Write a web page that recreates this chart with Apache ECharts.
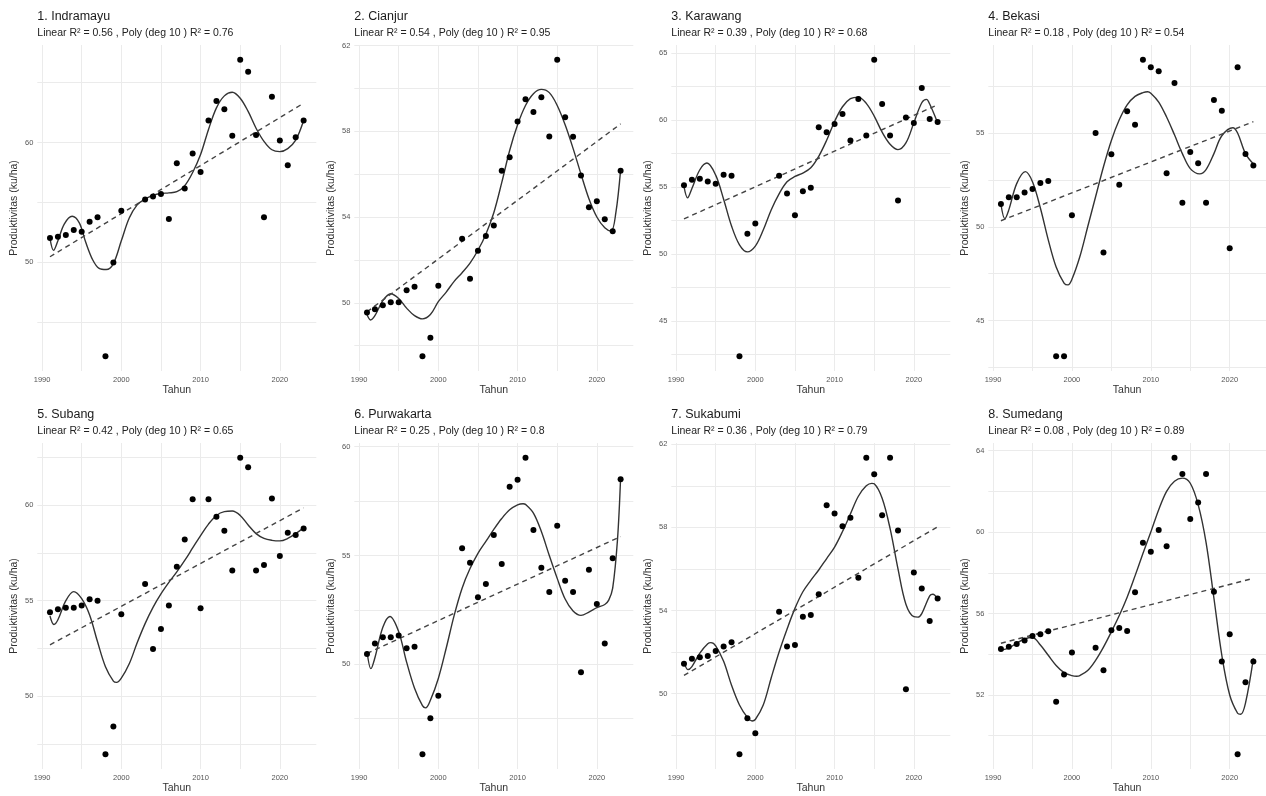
<!DOCTYPE html>
<html lang="id">
<head>
<meta charset="UTF-8">
<title>Produktivitas padi per kabupaten</title>
<script src="https://cdn.jsdelivr.net/npm/echarts@6.0.0/dist/echarts.min.js"></script>
<style>
  html, body { margin: 0; background: #fff; }
  #main { width: 1266px; height: 796px; }
</style>
</head>
<body>
<div id="main"></div>
<script>
// tahun pengamatan (2001 dan 2002 tidak ada)
const years = [1991, 1992, 1993, 1994, 1995, 1996, 1997, 1998, 1999, 2000,
  2003, 2004, 2005, 2006, 2007, 2008, 2009, 2010, 2011, 2012, 2013, 2014,
  2015, 2016, 2017, 2018, 2019, 2020, 2021, 2022, 2023];

// produktivitas (ku/ha), urut sesuai years
const indramayu = [52.03, 52.15, 52.28, 52.7, 52.56, 53.4, 53.76, 42.17, 50.0, 54.32,
  55.26, 55.49, 55.71, 53.62, 58.27, 56.16, 59.08, 57.55, 61.84, 63.48, 62.79, 60.58,
  66.91, 65.91, 60.64, 53.76, 63.82, 60.17, 58.11, 60.45, 61.84];
const cianjur = [49.55, 49.7, 49.89, 50.02, 50.02, 50.59, 50.75, 47.51, 48.37, 50.79,
  52.99, 51.12, 52.43, 53.11, 53.6, 56.16, 56.79, 58.45, 59.49, 58.9, 59.59, 57.75,
  61.33, 58.65, 57.74, 55.93, 54.45, 54.73, 53.89, 53.33, 56.16];
const karawang = [55.14, 55.56, 55.63, 55.43, 55.26, 55.93, 55.86, 42.39, 51.53, 52.28,
  55.86, 54.52, 52.9, 54.69, 54.96, 59.46, 59.09, 59.71, 60.45, 58.49, 61.57, 58.85,
  64.5, 61.2, 58.86, 54.0, 60.2, 59.78, 62.39, 60.08, 59.86];
const bekasi = [51.21, 51.57, 51.57, 51.83, 52.01, 52.33, 52.44, 43.1, 43.1, 50.62,
  55.0, 48.63, 53.86, 52.24, 56.16, 55.44, 58.9, 58.51, 58.29, 52.85, 57.67, 51.28,
  53.99, 53.38, 51.28, 56.76, 56.19, 48.86, 58.51, 53.88, 53.26];
const subang = [54.39, 54.55, 54.63, 54.63, 54.74, 55.07, 55.0, 46.98, 48.43, 54.29,
  55.87, 52.48, 53.52, 54.74, 56.77, 58.2, 60.3, 54.6, 60.3, 59.38, 58.65, 56.57,
  62.46, 61.97, 56.57, 56.86, 60.34, 57.33, 58.55, 58.43, 58.77];
const purwakarta = [50.47, 50.96, 51.24, 51.24, 51.32, 50.74, 50.81, 45.87, 47.52, 48.56,
  55.33, 54.67, 53.08, 53.69, 55.94, 54.61, 58.16, 58.48, 59.49, 56.17, 54.44, 53.32,
  56.37, 53.84, 53.32, 49.63, 54.35, 52.77, 50.96, 54.87, 58.5];
const sukabumi = [51.44, 51.67, 51.75, 51.81, 52.05, 52.26, 52.47, 47.08, 48.81, 48.09,
  53.94, 52.26, 52.34, 53.7, 53.78, 54.78, 59.07, 58.67, 58.06, 58.46, 55.58, 61.35,
  60.56, 58.59, 61.35, 57.85, 50.21, 55.83, 55.06, 53.49, 54.58];
const sumedang = [54.26, 54.37, 54.5, 54.67, 54.9, 54.98, 55.13, 51.67, 53.01, 54.09,
  54.32, 53.21, 55.18, 55.29, 55.14, 57.04, 59.48, 59.04, 60.1, 59.3, 63.65, 62.85,
  60.64, 61.46, 62.85, 57.07, 53.64, 54.98, 49.09, 52.62, 53.64];

// kurva polinomial (deg 10): [tahun, nilai]
const indramayuPoly = [[1991, 52.0], [1991.45, 51.0], [1992, 51.8], [1992.8, 53.2], [1993.8, 53.85],
  [1994.7, 53.3], [1995.5, 51.7], [1996.4, 50.2], [1997.2, 49.5], [1998.1, 49.4], [1999, 49.9],
  [2000, 51.8], [2001, 53.7], [2002, 54.8], [2003, 55.3], [2004, 55.6], [2005, 55.75],
  [2006, 55.8], [2007, 55.9], [2008, 56.4], [2009, 57.5], [2010, 59.0], [2011, 61.1],
  [2012, 62.9], [2013, 63.9], [2014, 64.2], [2015, 63.7], [2016, 62.6], [2017, 61.2],
  [2018, 60.1], [2019, 59.4], [2020, 59.25], [2021, 59.5], [2022, 60.2], [2023, 61.84]];
const cianjurPoly = [[1991, 49.45], [1991.45, 49.2], [1992, 49.4], [1993, 50.1], [1994, 50.42],
  [1995, 50.2], [1996, 49.75], [1997, 49.4], [1998, 49.25], [1999, 49.45], [2000, 50.05],
  [2001, 50.5], [2002, 51.0], [2003, 51.4], [2004, 51.85], [2005, 52.45], [2006, 53.2],
  [2007, 54.2], [2008, 55.6], [2009, 57.1], [2010, 58.3], [2011, 59.2], [2012, 59.75],
  [2013, 59.95], [2014, 59.8], [2015, 59.2], [2016, 58.3], [2017, 57.2], [2018, 56.0],
  [2019, 54.85], [2020, 54.0], [2021, 53.5], [2021.8, 53.35], [2022.4, 54.2], [2023, 56.2]];
const karawangPoly = [[1991, 55.05], [1991.45, 54.2], [1992, 54.9], [1993, 56.3], [1993.9, 56.8],
  [1995, 55.9], [1996, 54.1], [1997, 52.1], [1998, 50.7], [1999, 50.17], [2000, 50.6],
  [2001, 51.8], [2002, 53.3], [2003, 54.5], [2004, 55.4], [2005, 55.8], [2006, 56.05],
  [2007, 56.45], [2008, 57.3], [2009, 58.5], [2010, 59.9], [2011, 61.0], [2012, 61.6],
  [2013, 61.72], [2014, 61.25], [2015, 60.3], [2016, 59.1], [2017, 58.2], [2018, 57.8],
  [2019, 58.3], [2020, 59.8], [2021, 61.3], [2021.6, 61.55], [2022, 61.2], [2023, 59.8]];
const bekasiPoly = [[1991, 51.2], [1991.5, 50.43], [1992, 50.9], [1993, 52.3], [1994.1, 52.94],
  [1995, 52.4], [1996, 51.0], [1997, 49.3], [1998, 47.85], [1999, 47.0], [1999.5, 46.9],
  [2000, 47.2], [2001, 48.4], [2002, 50.0], [2003, 51.6], [2004, 53.2], [2005, 54.6],
  [2006, 55.7], [2007, 56.5], [2008, 56.95], [2009, 57.15], [2009.6, 57.2], [2010, 57.12],
  [2011, 56.65], [2012, 55.85], [2013, 54.9], [2014, 53.9], [2015, 53.1], [2016.2, 52.82],
  [2017, 53.05], [2018, 53.9], [2019, 54.85], [2020.4, 55.28], [2021, 55.0], [2022, 53.9],
  [2023, 53.35]];
const subangPoly = [[1991, 54.2], [1991.5, 53.75], [1992, 54.0], [1993, 55.0], [1994, 55.47],
  [1995, 55.1], [1996, 54.25], [1997, 52.85], [1998, 51.55], [1999, 50.8], [1999.4, 50.73],
  [2000, 50.95], [2001, 51.7], [2002, 52.8], [2003, 53.8], [2004, 54.65], [2005, 55.35],
  [2006, 55.95], [2007, 56.5], [2008, 57.1], [2009, 57.75], [2010, 58.4], [2011, 59.0],
  [2012, 59.45], [2013, 59.65], [2014, 59.68], [2015, 59.45], [2016, 58.95], [2017, 58.5],
  [2018, 58.25], [2019, 58.15], [2020, 58.12], [2021, 58.25], [2022, 58.5], [2023, 58.8]];
const purwakartaPoly = [[1991, 50.6], [1991.5, 49.8], [1992, 50.3], [1993, 51.7], [1993.9, 52.2],
  [1995, 51.5], [1996, 50.1], [1997, 48.9], [1998, 48.1], [1998.4, 48.0], [1999, 48.35],
  [2000, 49.35], [2001, 50.75], [2002, 52.25], [2003, 53.5], [2004, 54.4], [2005, 55.1],
  [2006, 55.65], [2007, 56.2], [2008, 56.7], [2009, 57.1], [2010, 57.33], [2010.7, 57.38],
  [2011, 57.35], [2012, 56.95], [2013, 56.1], [2014, 55.0], [2015, 53.95], [2016, 53.0],
  [2017, 52.45], [2018, 52.25], [2019, 52.4], [2020, 52.6], [2021, 52.75], [2021.5, 52.95],
  [2022, 53.5], [2022.6, 55.7], [2023, 58.6]];
const sukabumiPoly = [[1991, 51.55], [1991.5, 51.15], [1992, 51.3], [1993, 51.95], [1994, 52.4],
  [1994.4, 52.45], [1995, 52.3], [1996, 51.55], [1997, 50.4], [1998, 49.45], [1999, 48.85],
  [1999.6, 48.68], [2000, 48.75], [2001, 49.45], [2002, 50.75], [2003, 52.0], [2004, 53.1],
  [2005, 54.1], [2006, 54.9], [2007, 55.45], [2008, 55.95], [2009, 56.5], [2010, 57.05],
  [2011, 57.8], [2012, 58.65], [2013, 59.5], [2014, 60.0], [2014.7, 60.12], [2015, 60.1],
  [2016, 59.4], [2017, 57.95], [2018, 56.0], [2019, 54.3], [2020, 53.7], [2020.5, 53.68],
  [2021, 53.85], [2022, 54.7], [2022.4, 54.78], [2023, 54.55]];
const sumedangPoly = [[1991, 54.2], [1992, 54.3], [1993, 54.55], [1994, 54.75], [1995, 54.82],
  [1996, 54.45], [1997, 53.95], [1998, 53.45], [1999, 53.1], [2000, 52.95], [2000.6, 52.92],
  [2001, 52.95], [2002, 53.2], [2003, 53.7], [2004, 54.35], [2005, 55.1], [2006, 55.9],
  [2007, 56.8], [2008, 57.85], [2009, 58.95], [2010, 60.0], [2011, 61.1], [2012, 62.0],
  [2013, 62.5], [2014, 62.65], [2015, 62.4], [2016, 61.35], [2017, 59.5], [2018, 56.75],
  [2019, 53.95], [2020, 52.0], [2021, 51.1], [2021.4, 51.05], [2022, 51.6], [2023, 53.8]];

// garis linear: nilai pada 1991 dan 2023
const indramayuLinear = [50.47, 63.29];
const cianjurLinear = [49.58, 58.34];
const karawangLinear = [52.63, 61.15];
const bekasiLinear = [50.32, 55.6];
const subangLinear = [52.69, 59.85];
const purwakartaLinear = [50.5, 55.87];
const sukabumiLinear = [50.87, 58.03];
const sumedangLinear = [54.54, 57.73];

const titles = ['1. Indramayu', '2. Cianjur', '3. Karawang', '4. Bekasi',
  '5. Subang', '6. Purwakarta', '7. Sukabumi', '8. Sumedang'];
const linearR2 = ['0.56', '0.54', '0.39', '0.18', '0.42', '0.25', '0.36', '0.08'];
const polyR2 = ['0.76', '0.95', '0.68', '0.54', '0.65', '0.8', '0.79', '0.89'];

// tick label
const xLabels = [1990, 2000, 2010, 2020];
const xGrid = [1990, 1995, 2000, 2005, 2010, 2015, 2020];
const yLabels = [[50, 60], [50, 54, 58, 62], [45, 50, 55, 60, 65], [45, 50, 55],
  [50, 55, 60], [50, 55, 60], [50, 54, 58, 62], [52, 56, 60, 64]];
const yGrid = [[45, 50, 55, 60, 65], [48, 50, 52, 54, 56, 58, 60, 62],
  [42.5, 45, 47.5, 50, 52.5, 55, 57.5, 60, 62.5, 65], [42.5, 45, 47.5, 50, 52.5, 55, 57.5],
  [47.5, 50, 52.5, 55, 57.5, 60, 62.5], [47.5, 50, 52.5, 55, 57.5, 60],
  [48, 50, 52, 54, 56, 58, 60, 62], [50, 52, 54, 56, 58, 60, 62, 64]];

const values = [indramayu, cianjur, karawang, bekasi, subang, purwakarta, sukabumi, sumedang];
const polys = [indramayuPoly, cianjurPoly, karawangPoly, bekasiPoly, subangPoly,
  purwakartaPoly, sukabumiPoly, sumedangPoly];
const linears = [indramayuLinear, cianjurLinear, karawangLinear, bekasiLinear, subangLinear,
  purwakartaLinear, sukabumiLinear, sumedangLinear];

const font = 'Liberation Sans, Arial, sans-serif';
const expand = (v) => ({ lo: v.min - 0.05 * (v.max - v.min), hi: v.max + 0.05 * (v.max - v.min) });
const gridLeft = (i) => 37.3 + 317 * (i % 4);
const gridTop = (i) => 45 + 398 * Math.floor(i / 4);

const grids = [], xAxes = [], yAxes = [], series = [], titleList = [];

titles.forEach((t, i) => {
  grids.push({ left: gridLeft(i), top: gridTop(i), width: 279, height: 326 });

  titleList.push({
    text: t,
    subtext: 'Linear R² = ' + linearR2[i] + ' , Poly (deg 10 ) R² = ' + polyR2[i],
    left: gridLeft(i), top: gridTop(i) - 36, padding: 0, itemGap: 3,
    textStyle: { fontFamily: font, fontSize: 12.5, fontWeight: 'normal', color: '#1a1a1a', lineHeight: 15 },
    subtextStyle: { fontFamily: font, fontSize: 10.5, color: '#222', lineHeight: 12 }
  });

  xAxes.push({
    type: 'value', gridIndex: i,
    min: (v) => expand(v).lo, max: (v) => expand(v).hi,
    name: 'Tahun', nameLocation: 'middle', nameGap: 13,
    nameTextStyle: { fontFamily: font, fontSize: 10.5, color: '#333' },
    axisLine: { show: false },
    axisTick: { show: false, customValues: xGrid },
    axisLabel: {
      customValues: xLabels, formatter: (v) => String(v),
      fontFamily: font, fontSize: 7.5, color: '#555', margin: 5
    },
    splitLine: { show: true, lineStyle: { color: '#ebebeb', width: 1 } }
  });

  yAxes.push({
    type: 'value', gridIndex: i,
    min: (v) => expand(v).lo, max: (v) => expand(v).hi,
    name: 'Produktivitas (ku/ha)', nameLocation: 'middle', nameGap: 18,
    nameTextStyle: { fontFamily: font, fontSize: 10.5, color: '#333' },
    axisLine: { show: false },
    axisTick: { show: false, customValues: yGrid[i] },
    axisLabel: {
      customValues: yLabels[i], formatter: (v) => String(v),
      fontFamily: font, fontSize: 7.5, color: '#555', margin: 4
    },
    splitLine: { show: true, lineStyle: { color: '#ebebeb', width: 1 } }
  });

  series.push({
    type: 'line', xAxisIndex: i, yAxisIndex: i, data: polys[i],
    smooth: 0.35, showSymbol: false, silent: true, z: 2,
    lineStyle: { color: '#333', width: 1.4 }
  });
  series.push({
    type: 'line', xAxisIndex: i, yAxisIndex: i,
    data: [[years[0], linears[i][0]], [years[years.length - 1], linears[i][1]]],
    showSymbol: false, silent: true, z: 2,
    lineStyle: { color: '#444', width: 1.4, type: [5, 4] }
  });
  series.push({
    type: 'scatter', xAxisIndex: i, yAxisIndex: i,
    data: years.map((y, k) => [y, values[i][k]]),
    symbolSize: 6, z: 3,
    itemStyle: { color: '#000', opacity: 1 }
  });
});

const myChart = echarts.init(document.getElementById('main'));
myChart.setOption({
  animation: false,
  backgroundColor: '#fff',
  title: titleList,
  grid: grids,
  xAxis: xAxes,
  yAxis: yAxes,
  series: series
});
</script>
</body>
</html>
